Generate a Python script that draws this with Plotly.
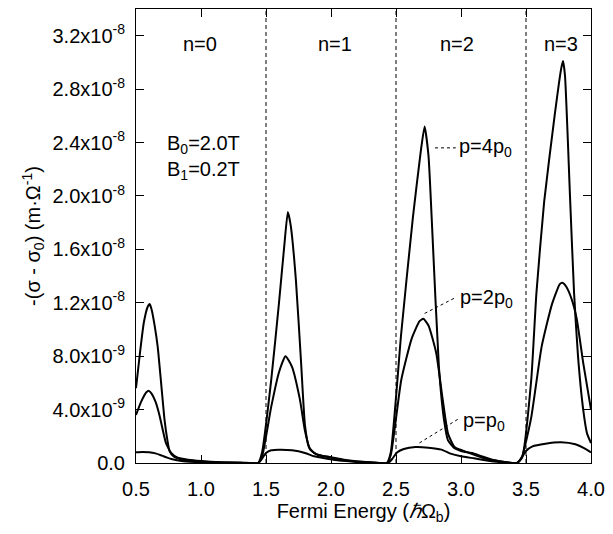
import numpy as np
import plotly.graph_objects as go

# ---- data (conductivity values in units of 1e-9 m^-1 Ohm^-1) ----
x_4p0 = [0.5, 0.53, 0.56, 0.59, 0.605, 0.62, 0.645, 0.667, 0.695, 0.72, 0.74, 0.758, 0.79, 0.86, 0.95, 1.05, 1.2, 1.35, 1.44,
         1.47, 1.54, 1.60, 1.64, 1.668, 1.69, 1.73, 1.77, 1.80, 1.83, 1.87, 1.93, 1.99, 2.1, 2.3, 2.43,
         2.46, 2.54, 2.63, 2.69, 2.72, 2.75, 2.78, 2.83, 2.87, 2.9, 2.95, 3.0, 3.1, 3.26, 3.43,
         3.47, 3.54, 3.58, 3.64, 3.72, 3.77, 3.785, 3.80, 3.84, 3.87, 3.90, 3.94, 3.97, 4.0]
y_4p0 = [5.6, 8.2, 10.5, 11.7, 11.9, 11.5, 10.2, 8.7, 5.8, 3.2, 1.8, 0.9, 0.5, 0.25, 0.15, 0.08, 0.03, 0.01, 0.0,
         0.8, 6.2, 12.0, 16.2, 18.8, 17.8, 13.7, 7.5, 2.8, 1.2, 0.75, 0.55, 0.45, 0.25, 0.05, 0.0,
         0.8, 9.7, 18.4, 23.3, 25.2, 23.0, 17.2, 7.2, 3.2, 1.7, 1.1, 0.9, 0.7, 0.2, 0.0,
         0.4, 6.2, 12.7, 19.6, 26.0, 29.5, 30.1, 29.0, 19.6, 12.7, 8.0, 4.0, 2.2, 1.5]

x_2p0 = [0.5, 0.54, 0.58, 0.60, 0.62, 0.65, 0.68, 0.71, 0.73, 0.77, 0.82, 0.9, 1.0, 1.15, 1.3, 1.44,
         1.47, 1.54, 1.60, 1.65, 1.70, 1.76, 1.80, 1.84, 1.9, 2.0, 2.15, 2.3, 2.43,
         2.46, 2.54, 2.62, 2.68, 2.71, 2.75, 2.81, 2.86, 2.9, 2.95, 3.05, 3.2, 3.43,
         3.47, 3.54, 3.62, 3.70, 3.76, 3.78, 3.81, 3.85, 3.89, 3.94, 4.0]
y_2p0 = [3.6, 4.6, 5.3, 5.4, 5.2, 4.6, 3.6, 2.3, 1.5, 0.75, 0.4, 0.25, 0.15, 0.06, 0.02, 0.0,
         0.5, 4.2, 6.8, 8.0, 7.2, 4.8, 2.4, 1.0, 0.6, 0.4, 0.15, 0.04, 0.0,
         0.6, 6.2, 9.3, 10.6, 10.8, 10.3, 8.2, 4.7, 2.2, 1.2, 0.8, 0.3, 0.0,
         0.5, 3.4, 8.7, 11.9, 13.4, 13.5, 13.2, 12.3, 10.8, 7.5, 4.0]

x_p0 = [0.5, 0.55, 0.6, 0.65, 0.7, 0.74, 0.78, 0.85, 0.95, 1.1, 1.3, 1.44,
        1.46, 1.50, 1.54, 1.60, 1.70, 1.80, 1.87, 1.95, 2.05, 2.2, 2.35, 2.44,
        2.47, 2.51, 2.56, 2.65, 2.75, 2.85, 2.92, 3.0, 3.1, 3.25, 3.43,
        3.46, 3.50, 3.55, 3.65, 3.77, 3.88, 3.95, 4.0]
y_p0 = [0.8, 0.82, 0.8, 0.72, 0.55, 0.4, 0.28, 0.15, 0.08, 0.03, 0.01, 0.0,
        0.2, 0.75, 0.95, 1.0, 0.95, 0.75, 0.5, 0.35, 0.2, 0.08, 0.02, 0.0,
        0.3, 0.8, 1.05, 1.2, 1.15, 1.0, 0.7, 0.5, 0.35, 0.12, 0.0,
        0.3, 0.9, 1.25, 1.45, 1.55, 1.4, 1.1, 0.8]

level_boundaries = [1.5, 2.5, 3.5]
level_labels = ["n=0", "n=1", "n=2", "n=3"]
level_label_x = [0.99, 2.03, 2.97, 3.77]

y_tickvals = [0, 4e-9, 8e-9, 1.2e-8, 1.6e-8, 2.0e-8, 2.4e-8, 2.8e-8, 3.2e-8]
y_ticktext = ["0.0", "4.0x10<sup>-9</sup>", "8.0x10<sup>-9</sup>", "1.2x10<sup>-8</sup>",
              "1.6x10<sup>-8</sup>", "2.0x10<sup>-8</sup>", "2.4x10<sup>-8</sup>",
              "2.8x10<sup>-8</sup>", "3.2x10<sup>-8</sup>"]

scale = 1e-9
FONT = "Liberation Sans, Arial, sans-serif"
FS = 20

fig = go.Figure()
for xs, ys, name in [(x_p0, y_p0, "p=p0"), (x_2p0, y_2p0, "p=2p0"), (x_4p0, y_4p0, "p=4p0")]:
    fig.add_trace(go.Scatter(x=xs, y=np.array(ys) * scale, mode="lines", name=name,
                             line=dict(color="black", width=2, shape="spline", smoothing=0.5),
                             showlegend=False, hoverinfo="skip"))

for xb in level_boundaries:
    fig.add_shape(type="line", x0=xb, x1=xb, xref="x", y0=0, y1=1, yref="paper",
                  line=dict(color="black", width=1, dash="4px,3px"))

annotations = []
for lab, lx in zip(level_labels, level_label_x):
    annotations.append(dict(x=lx, y=0.952, xref="x", yref="paper", text=lab, showarrow=False,
                            font=dict(size=FS, color="black", family=FONT)))
annotations.append(dict(x=0.72, y=0.672, xref="x", yref="paper",
                        text="B<sub>0</sub>=2.0T<br>B<sub>1</sub>=0.2T",
                        showarrow=False, xanchor="left", yanchor="middle", align="left",
                        font=dict(size=FS, color="black", family=FONT)))

p_labels = ["p=4p<sub>0</sub>", "p=2p<sub>0</sub>", "p=p<sub>0</sub>"]
p_label_pos = [(2.97, 23.6), (2.98, 12.3), (3.0, 3.1)]
leader_start = [(2.80, 23.6), (2.72, 11.2), (2.68, 1.5)]
leader_end = [(2.96, 23.6), (2.96, 12.4), (2.98, 3.3)]
for t, (px, py) in zip(p_labels, p_label_pos):
    annotations.append(dict(x=px, y=py * scale, xref="x", yref="y", text=t, showarrow=False,
                            xanchor="left", font=dict(size=FS, color="black", family=FONT)))
for (x0, y0), (x1, y1) in zip(leader_start, leader_end):
    fig.add_shape(type="line", x0=x0, x1=x1, y0=y0 * scale, y1=y1 * scale, xref="x", yref="y",
                  line=dict(color="black", width=1, dash="dot"))

fig.update_layout(
    width=613, height=534,
    margin=dict(l=136, r=16, t=8, b=71),
    paper_bgcolor="white", plot_bgcolor="white",
    font=dict(family=FONT, size=FS, color="black"),
    annotations=annotations,
    xaxis=dict(range=[0.5, 4.0], tickvals=[0.5, 1.0, 1.5, 2.0, 2.5, 3.0, 3.5, 4.0], tickformat=".1f",
               ticks="inside", ticklen=8, tickwidth=1, tickcolor="black",
               showline=True, linecolor="black", linewidth=1, mirror="allticks",
               showgrid=False, zeroline=False, ticklabelstandoff=8,
               title=dict(text="Fermi Energy (<i>ℏ</i>Ω<sub>b</sub>)", standoff=4,
                          font=dict(size=FS, family=FONT))),
    yaxis=dict(range=[0, 3.4e-8], tickvals=y_tickvals, ticktext=y_ticktext,
               ticks="inside", ticklen=8, tickwidth=1, tickcolor="black",
               showline=True, linecolor="black", linewidth=1, mirror="allticks",
               showgrid=False, zeroline=False, ticklabelstandoff=6,
               title=dict(text="-(σ - σ<sub>0</sub>) (m·Ω<sup>-1</sup>)", standoff=6,
                          font=dict(size=FS, family=FONT))),
)

fig.write_html("out.html")
